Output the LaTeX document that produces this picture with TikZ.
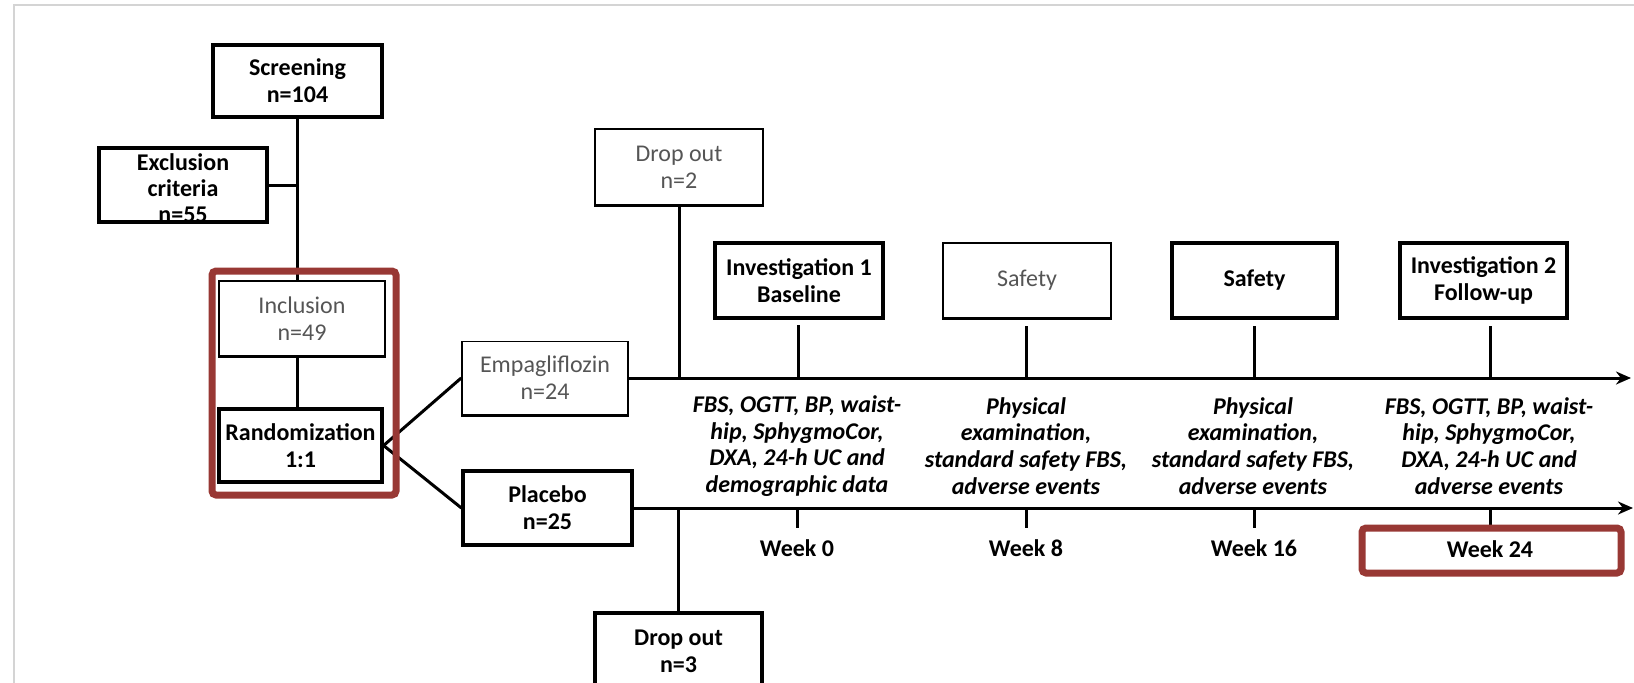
\documentclass[tikz,border=0pt]{standalone}
\usepackage{fontspec}
\setmainfont{Carlito}
\usetikzlibrary{arrows.meta}
\definecolor{hlred}{RGB}{152,56,52}
\definecolor{softtext}{RGB}{85,85,85}
\definecolor{framegray}{RGB}{212,212,212}

\begin{document}
\begin{tikzpicture}[x=1pt,y=-1pt,
  every node/.style={font=\fontsize{24}{27}\selectfont, align=center, inner sep=0pt},
  boldbox/.style={draw, line width=3.2pt, font=\fontsize{24}{27}\selectfont\bfseries},
  plainbox/.style={draw, line width=1.6pt, text=softtext},
  boxsize/.style 2 args={minimum width=#1pt, minimum height=#2pt},
  link/.style={line width=3pt},
  axis/.style={line width=3pt, -{Stealth[length=15pt,width=13pt]}},
  note/.style={font=\fontsize{24}{26.7}\selectfont\bfseries\itshape},
  week/.style={font=\fontsize{24}{27}\selectfont\bfseries},
  highlight/.style={draw=hlred, line width=7pt, rounded corners=4pt}
]
\useasboundingbox (0,0) rectangle (1634,683);

% page frame
\draw[framegray, line width=2pt] (14,683) -- (14,5) -- (1634,5);

% enrolment
\node[boldbox, boxsize={169}{72}] (screen) at (297.5,81) {Screening\\n=104};
\node[boldbox, boxsize={168}{74}] (excl) at (183,185) {};
\node[font=\fontsize{24}{26}\selectfont\bfseries] (excltext) at (183,188) {Exclusion\\criteria\\n=55};
\node[plainbox, boxsize={166}{75}] (incl) at (302,318.5) {Inclusion\\n=49};
\node[boldbox, boxsize={163}{73}] (rand) at (300.5,445.5) {Randomization\\1:1};

% study arms
\node[plainbox, boxsize={166}{73}] (empa) at (545,378) {Empagliflozin\\n=24};
\node[boldbox, boxsize={169}{74}] (plac) at (547.5,508) {Placebo\\n=25};
\node[plainbox, boxsize={168}{76}] (dropA) at (679,167) {Drop out\\n=2};
\node[boldbox, boxsize={167}{77}] (dropB) at (678.5,651.5) {Drop out\\n=3};

% visits
\node[boldbox, boxsize={168}{75}] (inv1) at (799,280.5) {Investigation 1\\Baseline};
\node[plainbox, boxsize={168}{75}] (safeA) at (1027,280.5) {Safety};
\node[boldbox, boxsize={165}{75}] (safeB) at (1254.5,280.5) {Safety};
\node[boldbox, boxsize={167}{75}] (inv2) at (1483.5,280.5) {Investigation 2\\Follow-up};

% heavier lower edge of the plain boxes
\foreach \b in {incl,empa,dropA,safeA}
  \draw[line width=3pt] (\b.south west) -- (\b.south east);

% flow connectors
\draw[link] (screen.south) -- (screen.south |- incl.north);
\draw[link] (excl.east) -- (excl.east -| screen.south);
\draw[link] (screen.south |- incl.south) -- (screen.south |- rand.north);
\draw[link] (rand.east) -- (empa.west);
\draw[link] (rand.east) -- (plac.west);

% time lines
\coordinate (endA) at (1631,378);
\coordinate (endB) at (1633,508);
\draw[axis] (empa.east) -- (endA);
\draw[axis] (plac.east) -- (endB);
\draw[link] (dropA.south) -- (dropA.south |- empa.east);
\draw[link] (dropB.north) -- (dropB.north |- plac.east);

% visit ticks above the upper line
\coordinate (k1) at (798,325);
\coordinate (k2) at (1026,326);
\coordinate (k3) at (1254,326);
\coordinate (k4) at (1490,326);
\foreach \k in {k1,k2,k3,k4}
  \draw[link] (\k) -- (\k |- empa.east);

% week ticks below the lower line
\coordinate (b1) at (797,528);
\coordinate (b2) at (1026,528);
\coordinate (b3) at (1254,528);
\coordinate (b4) at (1490,528);
\foreach \k in {b1,b2,b3,b4}
  \draw[link] (\k |- plac.east) -- (\k);

% measurements
\node[note] (m1) at (797,446) {FBS, OGTT, BP, waist-\\hip, SphygmoCor,\\DXA, 24-h UC and\\demographic data};
\node[note] (m2) at (1026,446) {Physical\\examination,\\standard safety FBS,\\adverse events};
\node[note] (m3) at (1253,446) {Physical\\examination,\\standard safety FBS,\\adverse events};
\node[note] (m4) at (1489,446) {FBS, OGTT, BP, waist-\\hip, SphygmoCor,\\DXA, 24-h UC and\\adverse events};

% weeks
\node[week] (w1) at (797,548) {Week 0};
\node[week] (w2) at (1026,548) {Week 8};
\node[week] (w3) at (1254,548) {Week 16};
\node[week] (w4) at (1490,549) {Week 24};

% highlights
\node[highlight, boxsize={184}{224}] (hlA) at (304,383) {};
\node[highlight, boxsize={259}{45}] (hlB) at (1491.5,550.5) {};
\end{tikzpicture}
\end{document}
